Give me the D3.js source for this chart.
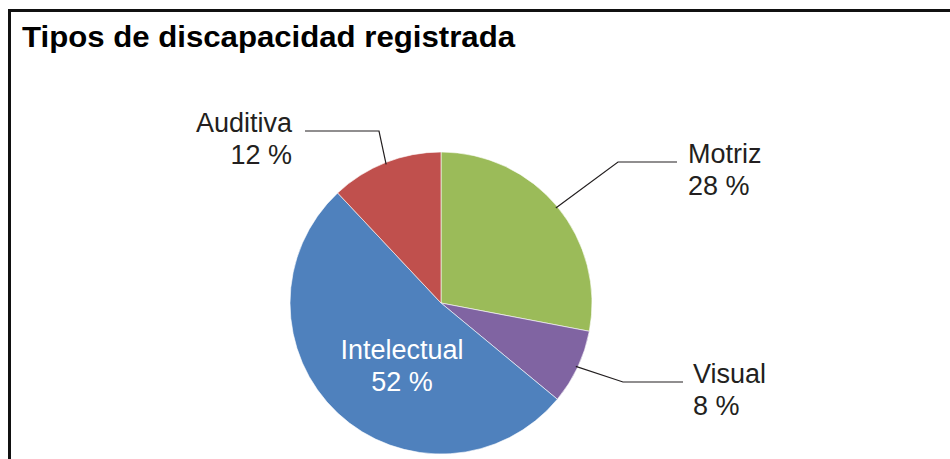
<!DOCTYPE html>
<html>
<head>
<meta charset="utf-8">
<script src="https://cdn.jsdelivr.net/npm/d3@7"></script>
<style>
  html, body { margin: 0; padding: 0; background: #fff; }
  svg { display: block; }
  text { font-family: "Liberation Sans", Arial, Helvetica, sans-serif; }
</style>
</head>
<body>
<svg id="chart" width="950" height="459"></svg>
<script>
// chart data, clockwise from 12 o'clock
var categories = ['Motriz', 'Visual', 'Intelectual', 'Auditiva'];
var percents = [28, 8, 52, 12];
var sliceColors = ['#9bbb59', '#8064a2', '#4f81bd', '#c0504d'];
var title = 'Tipos de discapacidad registrada';

// label placement (pixels) - leader elbow, line end and text anchor
var labelLayout = {
    Motriz: {elbow: [618, 162], end: [677, 162], text: [688, 163], anchor: 'start'},
    Visual: {elbow: [623, 382], end: [683, 382], text: [693, 383], anchor: 'start'},
    Auditiva: {elbow: [379, 131], end: [305, 131], text: [292, 132], anchor: 'end'},
    Intelectual: {text: [402, 359], anchor: 'middle', inside: true}
};

var W = 950, H = 459;
var cx = 441, cy = 303, radius = 151;
var LINE_GAP = 32;
var ink = '#231f20';

var svg = d3.select('#chart');

// frame: only top and left edges are visible in the crop
svg.append('path')
    .attr('d', 'M9.5,' + H + 'V10.5H' + W)
    .attr('fill', 'none')
    .attr('stroke', '#111')
    .attr('stroke-width', 3);

svg.append('text')
    .attr('x', 22)
    .attr('y', 47)
    .attr('font-size', 30)
    .attr('font-weight', 'bold')
    .attr('fill', '#000')
    .attr('textLength', 493)
    .attr('lengthAdjust', 'spacingAndGlyphs')
    .text(title);

var data = categories.map(function(c, i) { return {name: c, value: percents[i]}; });

var color = d3.scaleOrdinal().domain(categories).range(sliceColors);

var pie = d3.pie()
    .value(function(d) { return d.value; })
    .sort(null)
    .startAngle(0)
    .endAngle(2 * Math.PI);

var arc = d3.arc().innerRadius(0).outerRadius(radius);
var edgeArc = d3.arc().innerRadius(radius - 2).outerRadius(radius - 2);

var arcs = pie(data);

var g = svg.append('g').attr('transform', 'translate(' + cx + ',' + cy + ')');

g.selectAll('path.slice')
    .data(arcs)
    .enter().append('path')
    .attr('class', 'slice')
    .attr('d', arc)
    .attr('fill', function(d) { return color(d.data.name); })
    .attr('stroke', '#fff')
    .attr('stroke-width', 0.6);

// leader lines for outside labels
arcs.forEach(function(d) {
    var lay = labelLayout[d.data.name];
    if(!lay || lay.inside) return;
    var p = edgeArc.centroid(d);
    var pts = [[p[0] + cx, p[1] + cy], lay.elbow, lay.end];
    svg.append('path')
        .attr('d', d3.line()(pts))
        .attr('fill', 'none')
        .attr('stroke', ink)
        .attr('stroke-width', 1.2);
});

// labels: name + percent on two lines
arcs.forEach(function(d) {
    var lay = labelLayout[d.data.name];
    var t = svg.append('text')
        .attr('x', lay.text[0])
        .attr('y', lay.text[1])
        .attr('font-size', 27)
        .attr('text-anchor', lay.anchor)
        .attr('fill', lay.inside ? '#fff' : ink);
    t.append('tspan')
        .attr('x', lay.text[0])
        .text(d.data.name);
    t.append('tspan')
        .attr('x', lay.text[0])
        .attr('dy', LINE_GAP)
        .text(d.data.value + ' %');
});
</script>
</body>
</html>
